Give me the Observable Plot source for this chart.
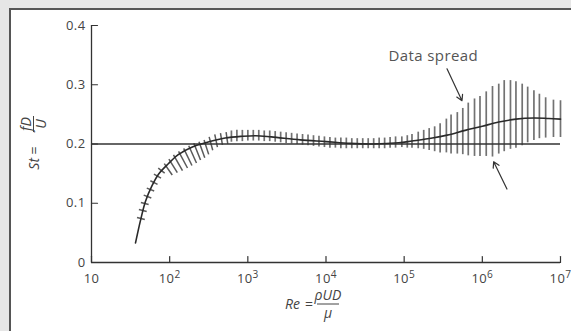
<!DOCTYPE html>
<html><head><meta charset="utf-8">
<script src="https://cdn.jsdelivr.net/npm/d3@7"></script>
<script src="https://cdn.jsdelivr.net/npm/@observablehq/plot@0.6"></script>
<style>
html,body{margin:0;padding:0;background:#e6e6e6;width:571px;height:331px;overflow:hidden}
#panel{position:absolute;left:9px;top:8px;width:570px;height:330px;background:#fff;border-left:2px solid #555;border-top:2px solid #555}
#panel svg{display:block}
</style></head><body><div id="panel"></div>
<script>
const xTicks = [10, 1e2, 1e3, 1e4, 1e5, 1e6, 1e7];
const xTickExp = ["", "2", "3", "4", "5", "6", "7"];
const yTicks = [0, 0.1, 0.2, 0.3, 0.4];
const yTickLabels = ["0", "0.1", "0.2", "0.3", "0.4"];
const refSt = 0.2;

// mean curve: log10(Re) and St
const curveLogRe = [1.563, 1.627, 1.69, 1.776, 1.857, 1.985, 2.11, 2.29, 2.46, 2.71, 2.93, 3.1, 3.3, 3.67, 4.0, 4.31, 4.6, 4.93, 5.1, 5.36, 5.55, 5.78, 6.0, 6.21, 6.43, 6.66, 6.85, 7.0];
const curveSt =    [0.033, 0.071, 0.103, 0.130, 0.149, 0.167, 0.182, 0.195, 0.202, 0.210, 0.213, 0.214, 0.212, 0.207, 0.204, 0.201, 0.200, 0.202, 0.205, 0.210, 0.215, 0.223, 0.230, 0.237, 0.242, 0.244, 0.243, 0.242];

// low-Re spread marks (slanted): upper end and lower end, log10(Re) and St
const lowTopLogRe = [1.582,1.606,1.632,1.668,1.707,1.753,1.799,1.854,1.931,1.990,2.049,2.114,2.179,2.244,2.309,2.375,2.440,2.505,2.577,2.650,2.722];
const lowTopSt =    [0.0759,0.0894,0.1012,0.1137,0.1256,0.1379,0.1492,0.1594,0.1669,0.1745,0.1815,0.1877,0.1926,0.1971,0.2012,0.2039,0.2066,0.2121,0.2162,0.2184,0.2202];
const lowBotLogRe = [1.682,1.706,1.731,1.765,1.802,1.845,1.889,1.936,2.033,2.098,2.164,2.228,2.285,2.343,2.395,2.449,2.499,2.551,2.611,2.675,2.743];
const lowBotSt =    [0.0725,0.0860,0.0978,0.1089,0.1206,0.1319,0.1425,0.1509,0.1476,0.1518,0.1551,0.1595,0.1637,0.1680,0.1730,0.1769,0.1825,0.1894,0.1948,0.1985,0.2003];

// data spread bars (vertical): log10(Re), low St, high St
const barLogRe = [2.79,2.86,2.93,3.00,3.07,3.14,3.21,3.28,3.35,3.42,3.49,3.56,3.63,3.70,3.77,3.84,3.91,3.98,4.05,4.12,4.19,4.26,4.33,4.40,4.47,4.54,4.61,4.68,4.75,4.82,4.89,4.97,5.04,5.10,5.18,5.25,5.32,5.39,5.46,5.54,5.60,5.68,5.75,5.82,5.90,5.97,6.05,6.13,6.21,6.28,6.36,6.43,6.51,6.58,6.66,6.73,6.81,6.91,7.00];
const barLow =  [0.203,0.204,0.204,0.205,0.205,0.205,0.204,0.204,0.203,0.202,0.201,0.200,0.199,0.198,0.197,0.196,0.195,0.194,0.193,0.193,0.192,0.192,0.192,0.192,0.192,0.192,0.192,0.192,0.192,0.193,0.193,0.194,0.193,0.193,0.192,0.191,0.189,0.187,0.185,0.185,0.183,0.183,0.182,0.180,0.179,0.179,0.179,0.178,0.183,0.187,0.191,0.193,0.197,0.202,0.206,0.209,0.210,0.211,0.211];
const barHigh = [0.222,0.223,0.223,0.223,0.223,0.223,0.222,0.222,0.221,0.220,0.219,0.218,0.217,0.216,0.215,0.214,0.213,0.212,0.211,0.210,0.210,0.210,0.209,0.209,0.209,0.209,0.209,0.210,0.210,0.211,0.212,0.212,0.214,0.216,0.220,0.223,0.226,0.229,0.234,0.242,0.249,0.253,0.260,0.269,0.276,0.280,0.288,0.297,0.301,0.307,0.307,0.305,0.301,0.296,0.290,0.284,0.278,0.274,0.273];

// annotation
const noteText = "Data spread";
const noteLogRe = 5.373;
const noteSt = 0.349;
const arrowFromLogRe = [5.548, 6.315];
const arrowFromSt = [0.327, 0.124];
const arrowToLogRe = [5.74, 6.145];
const arrowToSt = [0.273, 0.170];

const bars = barLogRe.map((e, i) => ({re: 10 ** e, lo: barLow[i], hi: barHigh[i]}));
const lowMarks = lowTopLogRe.map((e, i) => ({x1: 10 ** e, y1: lowTopSt[i], x2: 10 ** lowBotLogRe[i], y2: lowBotSt[i]}));
const curve = curveLogRe.map((e, i) => ({re: 10 ** e, st: curveSt[i]}));
const arrows = arrowFromLogRe.map((e, i) => ({x1: 10 ** e, y1: arrowFromSt[i], x2: 10 ** arrowToLogRe[i], y2: arrowToSt[i]}));

const tickShape = {draw(ctx, l) { ctx.moveTo(0, 0); ctx.lineTo(0, -l); }};
const FONT = "'Open Sans', 'DejaVu Sans', sans-serif";

const plot = Plot.plot({
  width: 560, height: 321,
  marginLeft: 80, marginRight: 11, marginTop: 15, marginBottom: 69,
  style: {fontFamily: FONT, fontSize: "13px", letterSpacing: "0.4px", color: "#444", background: "transparent", overflow: "visible"},
  x: {type: "log", domain: [10, 1e7]},
  y: {domain: [0, 0.4]},
  marks: [
    Plot.ruleX(bars, {x: "re", y1: "lo", y2: "hi", stroke: "#727272", strokeWidth: 1.7}),
    Plot.link(lowMarks, {x1: "x1", y1: "y1", x2: "x2", y2: "y2", stroke: "#5a5a5a", strokeWidth: 1.5}),
    Plot.ruleY([refSt], {stroke: "#333", strokeWidth: 1.3}),
    Plot.line(curve, {x: "re", y: "st", curve: "catmull-rom", stroke: "#2a2a2a", strokeWidth: 1.6}),
    Plot.ruleY([0], {stroke: "#333", strokeWidth: 1.3}),
    Plot.ruleX([10], {y1: 0, y2: 0.4, stroke: "#333", strokeWidth: 1.3}),
    Plot.vector(xTicks, {x: d => d, y: 0, length: 6, anchor: "start", shape: tickShape, stroke: "#333", strokeWidth: 1.2}),
    Plot.vector(yTicks, {x: 10, y: d => d, rotate: 90, length: 6, anchor: "start", shape: tickShape, stroke: "#333", strokeWidth: 1.2}),
    Plot.axisX({ticks: xTicks, tickSize: 0, tickPadding: 11, label: null,
      tickFormat: d => "10" + (xTickExp[xTicks.indexOf(d)] ? "^" + xTickExp[xTicks.indexOf(d)] : "")}),
    Plot.axisY({ticks: yTicks, tickSize: 0, tickPadding: 6, label: null,
      tickFormat: d => yTickLabels[yTicks.indexOf(d)]}),
    Plot.arrow(arrows, {x1: "x1", y1: "y1", x2: "x2", y2: "y2", headLength: 8, stroke: "#333", strokeWidth: 1.2}),
    Plot.text([noteText], {x: 10 ** noteLogRe, y: noteSt, text: d => d, fontSize: 15, fill: "#555"})
  ]
});

document.getElementById("panel").appendChild(plot);

const svg = d3.select(plot);
// superscripts on x tick labels
svg.selectAll('g[aria-label="x-axis tick label"] text').each(function() {
  const t = d3.select(this);
  const s = t.text();
  if (s.includes("^")) {
    const [base, exp] = s.split("^");
    t.text(base);
    t.append("tspan").attr("dy", "-0.42em").attr("font-size", "0.78em").text(exp);
  }
});

const lab = svg.append("g").attr("fill", "#444").style("font-family", FONT).style("font-size", "14px").style("letter-spacing", "0px");
// x-axis label: Re = ρUD / μ
const xl = lab.append("g");
xl.append("text").attr("x", 289).attr("y", 298.5).attr("text-anchor", "end").attr("font-style", "italic").text("Re");
xl.append("text").attr("x", 298).attr("y", 298.5).attr("text-anchor", "middle").text("=");
xl.append("text").attr("x", 317).attr("y", 290).attr("text-anchor", "middle").attr("font-style", "italic").text("ρUD");
xl.append("line").attr("x1", 306).attr("x2", 328).attr("y1", 294).attr("y2", 294).attr("stroke", "#444").attr("stroke-width", 1);
xl.append("text").attr("x", 317).attr("y", 308).attr("text-anchor", "middle").attr("font-style", "italic").text("μ");
// y-axis label: St = fD / U (rotated)
const yl = lab.append("g").attr("transform", "translate(28,135) rotate(-90)");
yl.append("text").attr("x", -13).attr("y", 0).attr("text-anchor", "end").attr("font-style", "italic").text("St");
yl.append("text").attr("x", -5.5).attr("y", 0).attr("text-anchor", "middle").text("=");
yl.append("text").attr("x", 21).attr("y", -8.5).attr("text-anchor", "middle").attr("font-style", "italic").text("fD");
yl.append("line").attr("x1", 13).attr("x2", 29).attr("y1", -5.5).attr("y2", -5.5).attr("stroke", "#444").attr("stroke-width", 1);
yl.append("text").attr("x", 21).attr("y", 6.5).attr("text-anchor", "middle").attr("font-style", "italic").text("U");
</script>
</body></html>
